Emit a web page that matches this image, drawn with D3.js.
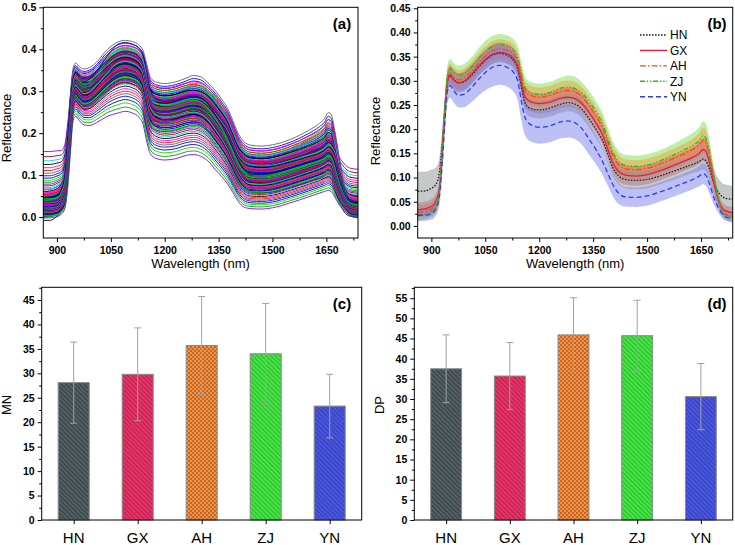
<!DOCTYPE html>
<html><head><meta charset="utf-8">
<script src="https://cdn.jsdelivr.net/npm/d3@7"></script>
<style>body{margin:0;background:#fff} svg{display:block;font-family:"Liberation Sans",Arial,sans-serif}</style>
</head><body><svg id="c" width="735" height="545"></svg>
<script>
// ---------------- DATA ----------------
const wavelengths = [862,880,900,912,922,930,938,945,952,962,975,990,1010,1040,1070,1090,1110,1128,1140,1150,1160,1175,1200,1230,1260,1280,1300,1320,1340,1360,1375,1390,1405,1420,1440,1470,1500,1550,1600,1630,1645,1655,1663,1672,1685,1700,1715,1738];
const groups = ["HN","GX","AH","ZJ","YN"];
const meanHN = [0.072,0.072,0.078,0.085,0.11,0.17,0.25,0.30,0.312,0.303,0.296,0.298,0.31,0.335,0.353,0.357,0.353,0.343,0.325,0.29,0.255,0.243,0.24,0.244,0.252,0.255,0.252,0.24,0.22,0.197,0.178,0.15,0.12,0.104,0.096,0.094,0.096,0.107,0.12,0.128,0.133,0.138,0.135,0.12,0.09,0.068,0.058,0.055];
const meanGX = [0.033,0.035,0.04,0.05,0.075,0.15,0.24,0.298,0.31,0.302,0.296,0.299,0.312,0.337,0.355,0.359,0.356,0.347,0.33,0.298,0.268,0.257,0.253,0.256,0.264,0.266,0.263,0.252,0.233,0.21,0.19,0.16,0.13,0.113,0.105,0.103,0.106,0.118,0.133,0.143,0.15,0.158,0.155,0.135,0.09,0.05,0.032,0.027];
const meanAH = [0.028,0.03,0.035,0.045,0.072,0.15,0.245,0.305,0.316,0.308,0.302,0.305,0.318,0.344,0.362,0.366,0.363,0.355,0.34,0.31,0.28,0.27,0.266,0.27,0.278,0.28,0.277,0.266,0.247,0.224,0.205,0.175,0.145,0.127,0.118,0.116,0.119,0.132,0.148,0.16,0.168,0.177,0.173,0.15,0.10,0.05,0.025,0.02];
const meanZJ = [0.022,0.025,0.03,0.04,0.07,0.15,0.25,0.313,0.325,0.317,0.311,0.314,0.327,0.353,0.371,0.375,0.372,0.364,0.35,0.318,0.287,0.276,0.272,0.276,0.285,0.287,0.284,0.274,0.256,0.233,0.213,0.183,0.152,0.134,0.125,0.123,0.126,0.139,0.156,0.168,0.176,0.186,0.182,0.158,0.105,0.05,0.024,0.018];
const meanYN = [0.022,0.022,0.025,0.035,0.06,0.13,0.22,0.28,0.29,0.28,0.27,0.272,0.285,0.31,0.328,0.332,0.328,0.318,0.30,0.26,0.225,0.21,0.204,0.207,0.215,0.217,0.213,0.20,0.178,0.155,0.135,0.11,0.085,0.068,0.06,0.059,0.062,0.074,0.088,0.097,0.103,0.108,0.105,0.09,0.06,0.035,0.02,0.015];
const sdHN = [0.04,0.04,0.038,0.035,0.03,0.025,0.02,0.018,0.018,0.018,0.018,0.018,0.018,0.018,0.018,0.018,0.018,0.018,0.018,0.018,0.018,0.018,0.018,0.018,0.018,0.018,0.018,0.018,0.018,0.018,0.018,0.018,0.018,0.018,0.018,0.018,0.018,0.018,0.018,0.018,0.02,0.022,0.022,0.024,0.026,0.028,0.028,0.028];
const sdGX = [0.015,0.015,0.015,0.016,0.018,0.022,0.022,0.02,0.02,0.02,0.02,0.02,0.02,0.02,0.02,0.02,0.02,0.02,0.02,0.02,0.02,0.02,0.02,0.02,0.02,0.02,0.02,0.02,0.02,0.02,0.02,0.02,0.02,0.02,0.02,0.02,0.02,0.02,0.02,0.021,0.022,0.024,0.024,0.022,0.018,0.014,0.012,0.012];
const sdAH = [0.014,0.014,0.014,0.015,0.018,0.022,0.022,0.02,0.02,0.02,0.02,0.02,0.02,0.02,0.02,0.02,0.02,0.02,0.02,0.02,0.02,0.02,0.02,0.02,0.02,0.02,0.02,0.02,0.02,0.02,0.02,0.02,0.02,0.02,0.02,0.02,0.02,0.02,0.021,0.022,0.024,0.026,0.026,0.024,0.018,0.012,0.01,0.01];
const sdZJ = [0.012,0.012,0.012,0.014,0.018,0.022,0.022,0.02,0.02,0.02,0.02,0.02,0.02,0.022,0.022,0.022,0.022,0.022,0.022,0.022,0.022,0.022,0.022,0.022,0.022,0.024,0.024,0.022,0.022,0.022,0.022,0.022,0.022,0.022,0.022,0.022,0.022,0.022,0.024,0.026,0.028,0.03,0.03,0.026,0.02,0.012,0.01,0.01];
const sdYN = [0.012,0.012,0.012,0.014,0.02,0.03,0.03,0.025,0.025,0.025,0.025,0.027,0.03,0.035,0.04,0.04,0.04,0.04,0.04,0.04,0.037,0.035,0.034,0.034,0.034,0.034,0.034,0.033,0.032,0.03,0.028,0.026,0.024,0.022,0.02,0.02,0.02,0.02,0.02,0.02,0.021,0.022,0.022,0.02,0.015,0.01,0.008,0.008];
// per-sample deviations (in group SD units) for the individual spectra of panel (a)
const sampleZ = [-2.0,-1.75,-1.5,-1.3,-1.1,-0.95,-0.8,-0.65,-0.5,-0.38,-0.26,-0.14,-0.04,0.06,0.16,0.27,0.39,0.52,0.66,0.81,0.97,1.14,1.33,1.55,1.8,2.1];
const mnMean = [28.1,29.8,35.7,34.0,23.3];
const mnSD = [8.3,9.5,10.0,10.3,6.5];
const dpMean = [37.5,35.7,45.9,45.7,30.6];
const dpSD = [8.4,8.3,9.2,8.8,8.2];
const wlTicks = [900,1050,1200,1350,1500,1650];
const wlMinor = [975,1125,1275,1425,1575,1725];
const reflTicksA = [0,0.1,0.2,0.3,0.4,0.5];
const reflMinorA = [0.05,0.15,0.25,0.35,0.45];
const reflTicksB = [0,0.05,0.1,0.15,0.2,0.25,0.3,0.35,0.4,0.45];
const reflMinorB = [0.025,0.075,0.125,0.175,0.225,0.275,0.325,0.375,0.425];
const mnTicks = [0,5,10,15,20,25,30,35,40,45];
const mnMinor = [2.5,7.5,12.5,17.5,22.5,27.5,32.5,37.5,42.5,47.5];
const dpTicks = [0,5,10,15,20,25,30,35,40,45,50,55];
const dpMinor = [2.5,7.5,12.5,17.5,22.5,27.5,32.5,37.5,42.5,47.5,52.5,57.5];

// ---------------- STYLE ----------------
const means = [meanHN,meanGX,meanAH,meanZJ,meanYN];
const sds = [sdHN,sdGX,sdAH,sdZJ,sdYN];
const spectraPalette = ["#000000","#ff0000","#0000ff","#00dd00","#7f00ff","#00d8d8","#ff00ff","#606060","#0000a0","#00a000","#a00000"];
const lineColor = {HN:"#222222",GX:"#ee1c3c",AH:"#ff4a10",ZJ:"#1cc01c",YN:"#2a3cff"};
const lineDash = {HN:"1.6,1.4",GX:null,AH:"6,2,1.6,2",ZJ:"5,1.8,1.4,1.8,1.4,1.8",YN:"5,3"};
const bandColor = {HN:"#8a9696",GX:"#e8506a",AH:"#f0a040",ZJ:"#7ee050",YN:"#7c82ea"};
const barColor = {HN:"#3f4a4e",GX:"#e8336a",AH:"#f19445",ZJ:"#45e545",YN:"#4b56e4"};
const hatchColor = {HN:"#5c6a6e",GX:"#b8204c",AH:"#c4662a",ZJ:"#2eb82e",YN:"#3440b0"};

const svg = d3.select("#c");
const defs = svg.append("defs");
groups.forEach(g=>{
  const p = defs.append("pattern").attr("id","pat"+g).attr("patternUnits","userSpaceOnUse")
    .attr("width",3.2).attr("height",3.2);
  if(g==="AH"){
    p.attr("width",4).attr("height",4);
    p.append("rect").attr("width",4).attr("height",4).attr("fill",barColor[g]);
    p.append("rect").attr("width",2).attr("height",2).attr("fill",hatchColor[g]);
    p.append("rect").attr("x",2).attr("y",2).attr("width",2).attr("height",2).attr("fill",hatchColor[g]);
  } else {
    p.attr("patternTransform","rotate(-45)");
    p.append("rect").attr("width",3.2).attr("height",3.2).attr("fill",barColor[g]);
    p.append("line").attr("x1",0.6).attr("x2",0.6).attr("y1",0).attr("y2",3.2)
      .attr("stroke",hatchColor[g]).attr("stroke-width",1.1);
  }
});

function styleAxis(sel){
  sel.select(".domain").remove();
  sel.selectAll(".tick line").attr("stroke","#000");
  sel.selectAll("text").attr("fill","#000").attr("font-size","10.5px").attr("font-weight","bold")
     .attr("font-family","'Liberation Sans',Arial,sans-serif");
}
function axes(g, x, y, xMaj, xMin, yMaj, yMin, xfmt, yfmt){
  const [y0] = y.range(); const [x0] = x.range();
  if(xMaj){
    g.append("g").attr("transform",`translate(0,${y0})`)
      .call(d3.axisBottom(x).tickValues(xMaj).tickFormat(xfmt).tickSize(4).tickPadding(5).tickSizeOuter(0)).call(styleAxis);
    g.append("g").attr("transform",`translate(0,${y0})`)
      .call(d3.axisBottom(x).tickValues(xMin).tickFormat("").tickSize(2.5).tickSizeOuter(0)).call(styleAxis);
  }
  g.append("g").attr("transform",`translate(${x0},0)`)
    .call(d3.axisLeft(y).tickValues(yMaj).tickFormat(yfmt).tickSize(4).tickPadding(3).tickSizeOuter(0)).call(styleAxis);
  g.append("g").attr("transform",`translate(${x0},0)`)
    .call(d3.axisLeft(y).tickValues(yMin).tickFormat("").tickSize(2.5).tickSizeOuter(0)).call(styleAxis);
}
function frame(g,x,y){
  const [x0,x1]=x.range(), [y0,y1]=y.range();
  g.append("rect").attr("x",x0).attr("y",y1).attr("width",x1-x0).attr("height",y0-y1)
    .attr("fill","none").attr("stroke","#000").attr("stroke-width",1);
}
function clip(id,x,y){
  const [x0,x1]=x.range(), [y0,y1]=y.range();
  defs.append("clipPath").attr("id",id).append("rect").attr("x",x0).attr("y",y1).attr("width",x1-x0).attr("height",y0-y1);
}
function label(txt,x,y,size,weight,rot){
  const t = svg.append("text").text(txt).attr("font-size",size+"px").attr("font-weight",weight||"normal")
    .attr("text-anchor","middle").attr("fill","#000");
  if(rot) t.attr("transform",`translate(${x},${y}) rotate(-90)`); else t.attr("x",x).attr("y",y);
  return t;
}

// ---------------- PANEL (a) ----------------
{
  const x = d3.scaleLinear().domain([862,1738]).range([43.3,358]);
  const y = d3.scaleLinear().domain([-0.05,0.5]).range([238,7.3]);
  clip("clipA",x,y);
  const g = svg.append("g");
  const line = d3.line().x((d,i)=>x(wavelengths[i])).y(d=>y(d)).curve(d3.curveMonotoneX);
  const plot = g.append("g").attr("clip-path","url(#clipA)");
  let idx = 0;
  sampleZ.forEach(z=>{
    groups.forEach((gr,gi)=>{
      const vals = means[gi].map((m,i)=>m + z*sds[gi][i]);
      plot.append("path").attr("d",line(vals)).attr("fill","none")
        .attr("stroke",spectraPalette[idx % spectraPalette.length]).attr("stroke-width",0.9);
      idx++;
    });
  });
  frame(g,x,y);
  axes(g,x,y,wlTicks,wlMinor,reflTicksA,reflMinorA,d3.format("d"),d3.format(".1f"));
  label("Wavelength (nm)",200.6,268,13);
  label("Reflectance",11,128,13,"normal",true);
  label("(a)",342,29,15,"bold");
}

// ---------------- PANEL (b) ----------------
{
  const x = d3.scaleLinear().domain([862,1738]).range([417.7,732.7]);
  const y = d3.scaleLinear().domain([-0.025,0.452]).range([238,7.3]);
  clip("clipB",x,y);
  const g = svg.append("g");
  const plot = g.append("g").attr("clip-path","url(#clipB)");
  const area = d3.area().x((d,i)=>x(wavelengths[i])).y0(d=>y(d[0])).y1(d=>y(d[1])).curve(d3.curveMonotoneX);
  const line = d3.line().x((d,i)=>x(wavelengths[i])).y(d=>y(d)).curve(d3.curveMonotoneX);
  const bandOrder = [3,2,1,0,4];
  bandOrder.forEach(gi=>{
    const gr = groups[gi];
    const vals = means[gi].map((m,i)=>[m - sds[gi][i], m + sds[gi][i]]);
    plot.append("path").attr("d",area(vals)).attr("fill",bandColor[gr]).attr("fill-opacity",0.5);
  });
  [0,1,2,3,4].forEach(gi=>{
    const gr = groups[gi];
    plot.append("path").attr("d",line(means[gi])).attr("fill","none").attr("stroke",lineColor[gr])
      .attr("stroke-width",1.3).attr("stroke-dasharray",lineDash[gr]);
  });
  frame(g,x,y);
  axes(g,x,y,wlTicks,wlMinor,reflTicksB,reflMinorB,d3.format("d"),d3.format(".2f"));
  label("Wavelength (nm)",575.2,268,13);
  label("Reflectance",380,131,13,"normal",true);
  label("(b)",717,29,15,"bold");
  // legend
  const legY = d3.scalePoint().domain(groups).range([35,96.7]);
  groups.forEach(gr=>{
    g.append("line").attr("x1",640).attr("x2",667).attr("y1",legY(gr)).attr("y2",legY(gr))
      .attr("stroke",lineColor[gr]).attr("stroke-width",1.4).attr("stroke-dasharray",lineDash[gr]);
    g.append("text").attr("x",670).attr("y",legY(gr)).attr("dy","0.36em").attr("font-size","12px")
      .attr("fill","#000").text(gr);
  });
}

// ---------------- BAR PANELS ----------------
function barPanel(xr, yTop, ymax, meansArr, sdArr, ticks, minor, ylab, ylabX, letter, letterX){
  const x = d3.scaleLinear().domain([0.5,5.5]).range(xr);
  const y = d3.scaleLinear().domain([0,ymax]).range([520,yTop]);
  const g = svg.append("g");
  const bw = (x(1.5)-x(1))*0.97;
  groups.forEach((gr,i)=>{
    const cx = x(i+1);
    g.append("rect").attr("x",cx-bw/2).attr("y",y(meansArr[i])).attr("width",bw)
      .attr("height",y(0)-y(meansArr[i])).attr("fill",`url(#pat${gr})`)
      .attr("stroke","#8a8a8a").attr("stroke-width",1);
  });
  groups.forEach((gr,i)=>{
    const cx = x(i+1), hi = y(meansArr[i]+sdArr[i]), lo = y(meansArr[i]-sdArr[i]);
    const eb = g.append("g").attr("stroke","#a0a0a0").attr("stroke-width",1);
    eb.append("line").attr("x1",cx).attr("x2",cx).attr("y1",hi).attr("y2",lo);
    eb.append("line").attr("x1",cx-3.5).attr("x2",cx+3.5).attr("y1",hi).attr("y2",hi);
    eb.append("line").attr("x1",cx-3.5).attr("x2",cx+3.5).attr("y1",lo).attr("y2",lo);
  });
  frame(g,x,y);
  g.append("g").attr("transform",`translate(0,520)`)
    .call(d3.axisBottom(x).tickValues([1,2,3,4,5]).tickFormat("").tickSize(4).tickSizeOuter(0)).call(styleAxis);
  axes(g,x,y,null,null,ticks,minor,null,d3.format("d"));
  groups.forEach((gr,i)=>{
    g.append("text").attr("x",x(i+1)).attr("y",543).attr("text-anchor","middle")
      .attr("font-size","15px").attr("fill","#000").text(gr);
  });
  label(ylab,ylabX,405,13,"normal",true);
  label(letter,letterX,309,15,"bold");
}
barPanel([41.7,361.7],287.3,47.6,mnMean,mnSD,mnTicks,mnMinor,"MN",11,"(c)",342);
barPanel([414.3,732.7],287.3,57.7,dpMean,dpSD,dpTicks,dpMinor,"DP",384,"(d)",717);
</script></body></html>
